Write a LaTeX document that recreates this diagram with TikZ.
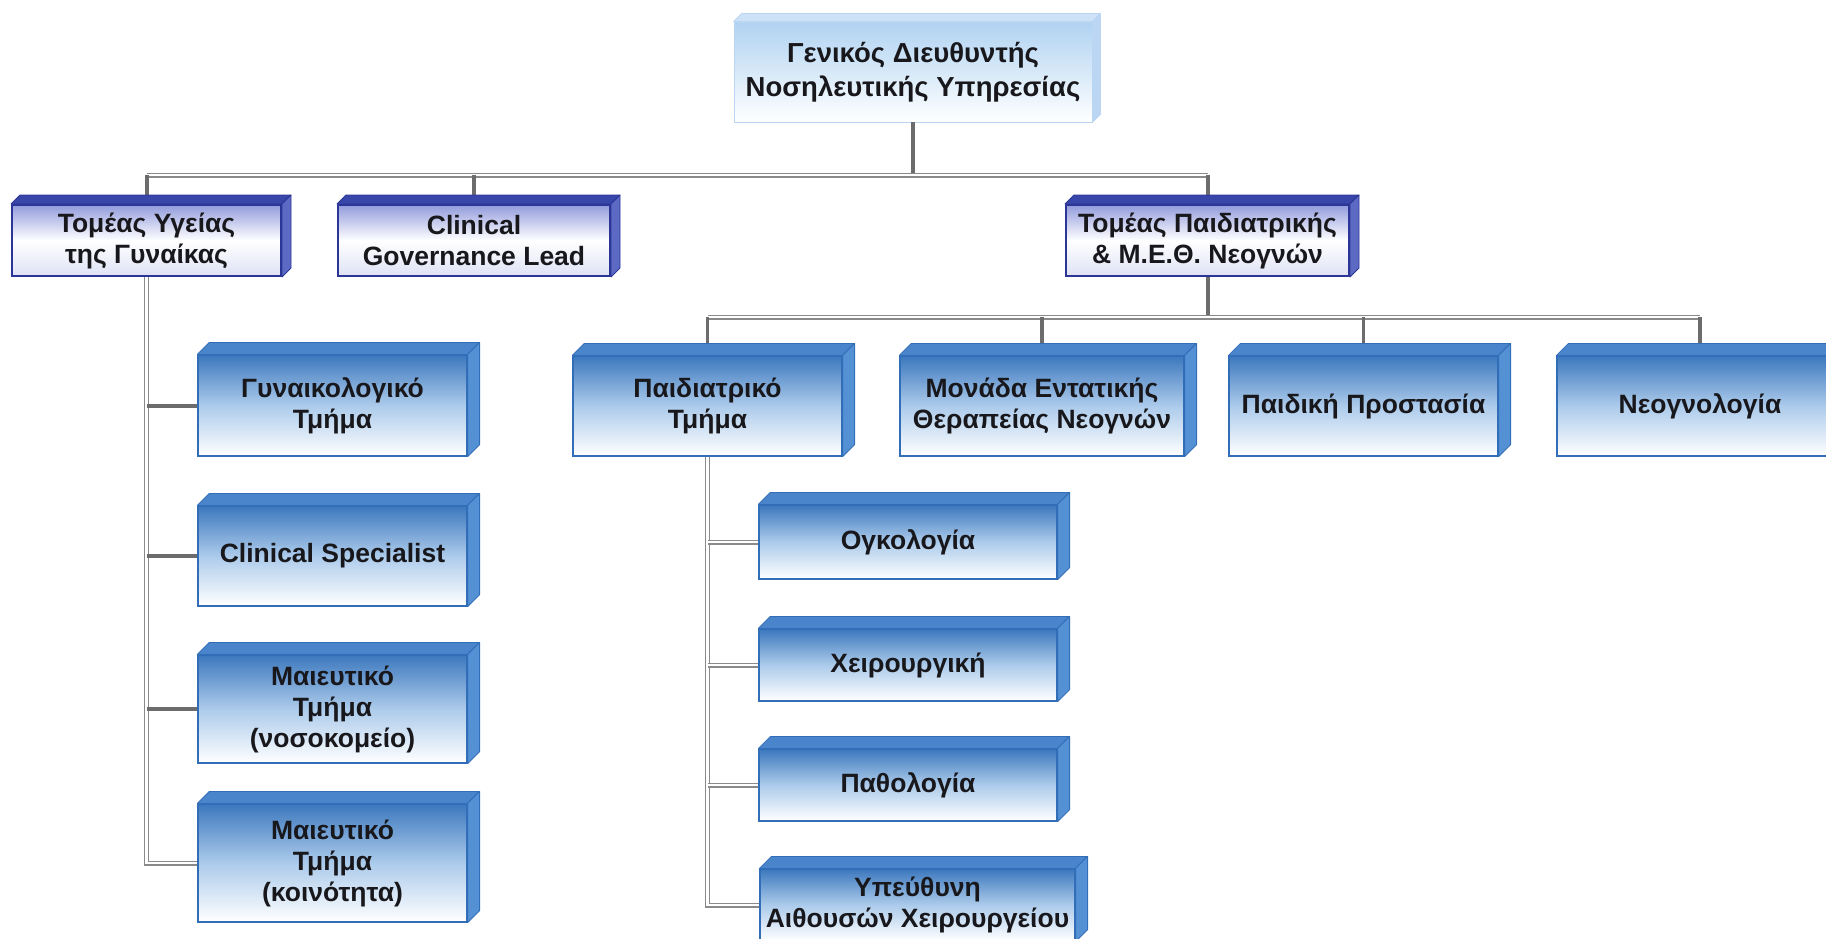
\documentclass[tikz,border=0pt]{standalone}
\usepackage{fontspec}
\setmainfont{Liberation Sans}
\usetikzlibrary{calc}

\definecolor{inkc}{RGB}{24,24,28}
\definecolor{headTop}{RGB}{176,211,242}
\definecolor{headFace}{RGB}{205,226,246}
\definecolor{headSide}{RGB}{186,214,242}
\definecolor{secBorder}{RGB}{44,54,150}
\definecolor{secFace}{RGB}{56,70,170}
\definecolor{secSide}{RGB}{92,106,196}
\definecolor{secTop}{RGB}{146,156,220}
\definecolor{secBottom}{RGB}{222,226,245}
\definecolor{unitBorder}{RGB}{50,110,184}
\definecolor{unitFace}{RGB}{74,132,202}
\definecolor{unitSide}{RGB}{84,144,212}
\definecolor{unitTop}{RGB}{60,120,190}
\definecolor{unitMid}{RGB}{172,203,235}
\definecolor{linkgray}{RGB}{138,138,138}
\definecolor{stubgray}{RGB}{108,108,108}

\tikzset{
  every node/.style={font=\bfseries\fontsize{26.5}{31}\selectfont, text=inkc, align=center, inner sep=0pt},
  headbox/.style={top color=headTop, bottom color=white, draw=headSide, line width=0.8pt,
    font=\bfseries\fontsize{27.5}{34}\selectfont},
  secbox/.style={top color=secTop, bottom color=secBottom, middle color=white, draw=secBorder, line width=2pt},
  unitbox/.style={top color=unitTop, bottom color=white, middle color=unitMid, draw=unitBorder, line width=1.2pt},
  link/.style={draw=linkgray, line width=1.2pt, double=white, double distance=2.6pt},
  stub/.style={draw=stubgray, line width=4pt},
}

% top and right faces of an extruded box
\newcommand\solidfaces[5]{%
  \filldraw[fill=#3, draw=#5, line width=0.8pt, line join=round]
    (#1.north west) -- ++(#2,-#2) -- ([shift={(#2,-#2)}]#1.north east) -- (#1.north east) -- cycle;
  \filldraw[fill=#4, draw=#5, line width=0.8pt, line join=round]
    (#1.north east) -- ++(#2,-#2) -- ([shift={(#2,-#2)}]#1.south east) -- (#1.south east) -- cycle;
}

\begin{document}
\begin{tikzpicture}[x=1pt,y=-1pt]
\useasboundingbox (0,0) rectangle (1826,939);
\clip (0,0) rectangle (1826,939);

% director
\node[headbox, minimum width=358, minimum height=100] (top) at (913,72)
  {Γενικός Διευθυντής\\Νοσηλευτικής Υπηρεσίας};

% sectors
\node[secbox, minimum width=269, minimum height=71] (A) at (146.5,240.5) {Τομέας Υγείας\\της Γυναίκας};
\node[secbox, minimum width=272, minimum height=71] (B) at (474,240.5) {Clinical\\Governance Lead};
\node[secbox, minimum width=283, minimum height=71] (C) at (1207.5,240.5) {Τομέας Παιδιατρικής\\\& Μ.Ε.Θ. Νεογνών};

% women's health units
\node[unitbox, minimum width=269, minimum height=101] (G1) at (332.5,405.5) {Γυναικολογικό\\Τμήμα};
\node[unitbox, minimum width=269, minimum height=100] (G2) at (332.5,556) {Clinical Specialist};
\node[unitbox, minimum width=269, minimum height=108] (G3) at (332.5,709) {Μαιευτικό\\Τμήμα\\(νοσοκομείο)};
\node[unitbox, minimum width=269, minimum height=118] (G4) at (332.5,863) {Μαιευτικό\\Τμήμα\\(κοινότητα)};

% paediatric units
\node[unitbox, minimum width=269, minimum height=100] (P1) at (707.5,406) {Παιδιατρικό\\Τμήμα};
\node[unitbox, minimum width=284, minimum height=100] (P2) at (1042,406) {Μονάδα Εντατικής\\Θεραπείας Νεογνών};
\node[unitbox, minimum width=269, minimum height=100] (P3) at (1363.5,406) {Παιδική Προστασία};
\node[unitbox, minimum width=286, minimum height=100] (P4) at (1700,406) {Νεογνολογία};

% paediatric department sections
\node[unitbox, minimum width=298, minimum height=74] (O1) at (908,542) {Ογκολογία};
\node[unitbox, minimum width=298, minimum height=72] (O2) at (908,665) {Χειρουργική};
\node[unitbox, minimum width=298, minimum height=72] (O3) at (908,785) {Παθολογία};
\node[unitbox, minimum width=315, minimum height=72] (O4) at (917.5,905) {Υπεύθυνη\\Αιθουσών Χειρουργείου};

% connectors
\coordinate (busA) at (0,175);
\coordinate (busB) at (0,317);
\draw[stub] (top.south) -- (top.south |- busA);
\draw[link] (A.north |- busA) -- (C.north |- busA);
\foreach \n in {A,B,C} \draw[stub] (\n.north |- busA) -- (\n.north);

\draw[link] (A.south) -- (A.south |- G4.west) -- (G4.west);
\foreach \n in {G1,G2,G3} \draw[stub] (A.south |- \n.west) -- (\n.west);

\draw[stub] (C.south) -- (C.south |- busB);
\draw[link] (P1.north |- busB) -- (P4.north |- busB);
\foreach \n in {P1,P2,P3,P4} \draw[stub, line width=3.5pt] (\n.north |- busB) -- (\n.north);

\draw[link] (P1.south) -- (P1.south |- O4.west) -- (O4.west);
\foreach \n in {O1,O2,O3} \draw[link] (P1.south |- \n.west) -- (\n.west);

% extruded faces
\solidfaces{top}{8}{headFace}{headSide}{headSide}
\foreach \n in {A,B,C} {\solidfaces{\n}{9}{secFace}{secSide}{secBorder}}
\foreach \n in {G1,G2,G3,G4,P1,P2,P3,P4,O1,O2,O3,O4} {\solidfaces{\n}{12}{unitFace}{unitSide}{unitBorder}}
\end{tikzpicture}
\end{document}
